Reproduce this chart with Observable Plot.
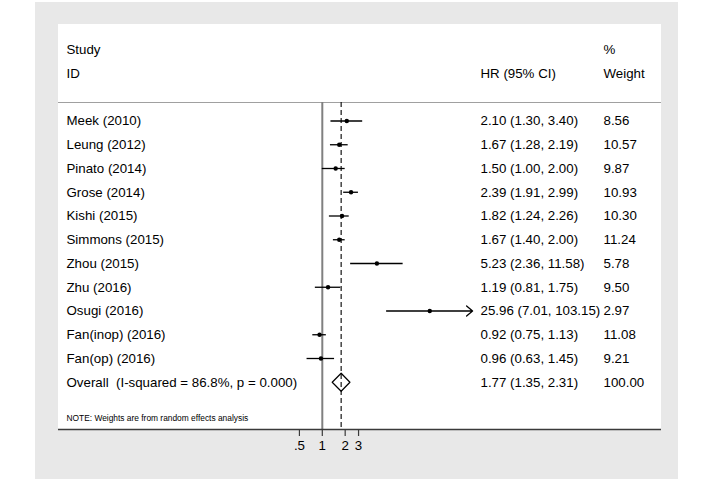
<!DOCTYPE html>
<html><head><meta charset="utf-8">
<script src="https://cdn.jsdelivr.net/npm/d3@7"></script>
<script src="https://cdn.jsdelivr.net/npm/@observablehq/plot@0.6"></script>
<style>
body{margin:0;background:#fff;}
#page{position:relative;width:714px;height:483px;overflow:hidden;background:#fff;}
#bg{position:absolute;left:35px;top:2px;width:643px;height:477px;background:#e8e8e8;}
#panel{position:absolute;left:58px;top:24px;width:603px;height:405px;background:#fff;}
#chart{position:absolute;left:58px;top:24px;}
</style></head><body>
<div id="page"><div id="bg"></div><div id="panel"></div><div id="chart"></div></div>
<script>
// ---- data ----
const studies = ["Meek (2010)","Leung (2012)","Pinato (2014)","Grose (2014)","Kishi (2015)","Simmons (2015)","Zhou (2015)","Zhu (2016)","Osugi (2016)","Fan(inop) (2016)","Fan(op) (2016)"];
const hr      = [2.10, 1.67, 1.50, 2.39, 1.82, 1.67, 5.23, 1.19, 25.96, 0.92, 0.96];
const lower   = [1.30, 1.28, 1.00, 1.91, 1.24, 1.40, 2.36, 0.81, 7.01, 0.75, 0.63];
const upper   = [3.40, 2.19, 2.00, 2.99, 2.26, 2.00, 11.58, 1.75, 103.15, 1.13, 1.45];
const weights = [8.56, 10.57, 9.87, 10.93, 10.30, 11.24, 5.78, 9.50, 2.97, 11.08, 9.21];
const overallLabel = "Overall\u00a0 (I-squared = 86.8%, p = 0.000)";
const overallHR = 1.77, overallLower = 1.35, overallUpper = 2.31, overallWeight = 100.00;
const xTicks = [0.5, 1, 2, 3];
const xTickLabels = [".5", "1", "2", "3"];
const headerLeft = ["Study", "ID"];
const headerMid = ["", "HR (95% CI)"];
const headerRight = ["%", "Weight"];
const noteText = "NOTE: Weights are from random effects analysis";
const xMax = 95; // clip limit of the plot region (arrow drawn up to it)

// ---- table ----
const f2 = v => v.toFixed(2);
const rows = studies.map((s, i) => ({
  row: i, label: s, hr: hr[i], lo: lower[i], hi: upper[i],
  ci: `${f2(hr[i])} (${f2(lower[i])}, ${f2(upper[i])})`,
  w: f2(weights[i]), clipped: upper[i] > xMax
}));
const nRows = rows.length;
const overall = {row: nRows, label: overallLabel, hr: overallHR, lo: overallLower, hi: overallUpper,
  ci: `${f2(overallHR)} (${f2(overallLower)}, ${f2(overallUpper)})`, w: f2(overallWeight)};
const textRows = [...rows, overall];
const headers = headerLeft.map((t, i) => ({row: i - 3, left: t, mid: headerMid[i], right: headerRight[i]}));
const note = [{row: nRows + 1.5, text: noteText}];
const tickTable = xTicks.map((v, i) => ({v, label: xTickLabels[i]}));
const dh = 0.38;
const diamond = [
  {x: overall.lo, y: overall.row}, {x: overall.hr, y: overall.row - dh},
  {x: overall.hi, y: overall.row}, {x: overall.hr, y: overall.row + dh},
  {x: overall.lo, y: overall.row}
];

const pxPerLog = 33, x1px = 263.8;
const font = 13.3;
const chart = Plot.plot({
  width: 603, height: 446,
  marginLeft: 0, marginRight: 0, marginTop: 78, marginBottom: 41,
  style: {background: "transparent", fontFamily: "'Liberation Sans', Arial, sans-serif", fontSize: font + "px", color: "#000"},
  x: {type: "log", domain: [1 / xMax, xMax], range: [x1px - pxPerLog * Math.log(xMax), x1px + pxPerLog * Math.log(xMax)], axis: null},
  y: {type: "linear", domain: [0, nRows], range: [96.5, 357.75], axis: null},
  marks: [
    Plot.frame({anchor: "top", stroke: "#a0a0a0", strokeWidth: 1}),
    Plot.ruleX([1], {stroke: "#808080", strokeWidth: 2}),
    Plot.ruleX([overallHR], {stroke: "#000", strokeWidth: 1.1, strokeDasharray: "5,3"}),
    Plot.ruleY(rows.filter(d => !d.clipped), {y: "row", x1: "lo", x2: "hi", stroke: "#000", strokeWidth: 1.3}),
    Plot.arrow(rows.filter(d => d.clipped), {x1: "lo", x2: () => xMax, y1: "row", y2: "row", stroke: "#000", strokeWidth: 1.3, headLength: 9, headAngle: 80}),
    Plot.dot(rows, {x: "hr", y: "row", r: 2.2, fill: "#000", stroke: null}),
    Plot.line(diamond, {x: "x", y: "y", stroke: "#000", strokeWidth: 1.2}),
    Plot.text(textRows, {y: "row", text: "label", frameAnchor: "left", dx: 8, textAnchor: "start", fontSize: font, fill: "#000"}),
    Plot.text(textRows, {y: "row", text: "ci", frameAnchor: "left", dx: 422, textAnchor: "start", fontSize: font, fill: "#000"}),
    Plot.text(textRows, {y: "row", text: "w", frameAnchor: "left", dx: 545, textAnchor: "start", fontSize: font, fill: "#000"}),
    Plot.text(headers, {y: "row", text: "left", frameAnchor: "left", dx: 8, textAnchor: "start", fontSize: font, fill: "#000"}),
    Plot.text(headers, {y: "row", text: "mid", frameAnchor: "left", dx: 422, textAnchor: "start", fontSize: font, fill: "#000"}),
    Plot.text(headers, {y: "row", text: "right", frameAnchor: "left", dx: 545, textAnchor: "start", fontSize: font, fill: "#000"}),
    Plot.text(note, {y: "row", text: "text", frameAnchor: "left", dx: 8, textAnchor: "start", fontSize: 8.4, fill: "#000"}),
    Plot.frame({anchor: "bottom", stroke: "#3a3a3a", strokeWidth: 1.5}),
    Plot.axisX(xTicks, {tickSize: 7, fill: "none", stroke: "#3a3a3a", strokeWidth: 1.2}),
    Plot.text(tickTable, {x: "v", text: "label", frameAnchor: "bottom", lineAnchor: "top", dy: 11, fontSize: font, fill: "#000"})
  ]
});
document.getElementById("chart").appendChild(chart);
</script>
</body></html>
